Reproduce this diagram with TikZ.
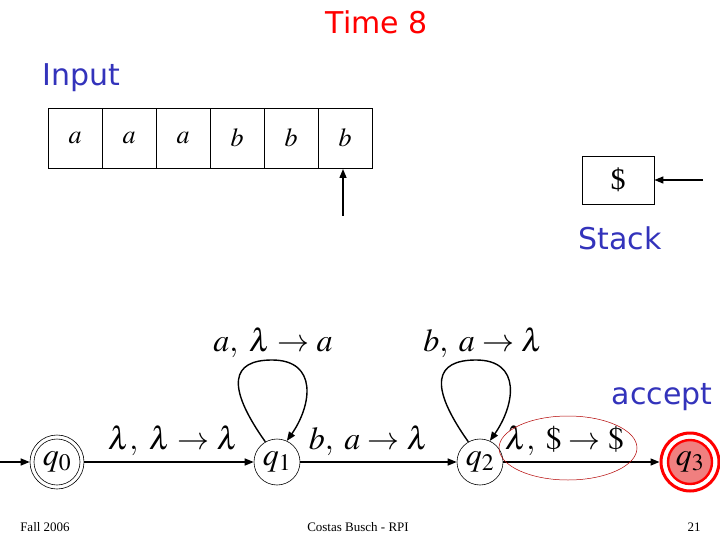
\documentclass[tikz,border=0pt]{standalone}
\usepackage{mathptmx}
\usepackage{fontspec}
\setmainfont{Liberation Serif}
\newfontfamily\comicfont{DejaVu Sans}
\usetikzlibrary{arrows.meta}
\definecolor{slideblue}{HTML}{3333BB}
\definecolor{acceptfill}{HTML}{F07F7F}
\tikzset{
  cellbox/.style={draw, line width=0.8pt, minimum width=54pt, minimum height=60pt, inner sep=0pt, font=\fontsize{26}{30}\selectfont},
  statenode/.style={circle, draw, line width=0.6pt, minimum size=46pt, inner sep=0pt, font=\fontsize{32}{36}\selectfont},
  edgelbl/.style={font=\fontsize{32}{36}\selectfont, inner sep=0pt},
  arr/.style={-{Triangle[length=9pt,width=7pt]}, line width=1.4pt},
  slidetext/.style={font=\comicfont\fontsize{30}{34}\selectfont, inner sep=0pt},
  foot/.style={font=\fontsize{13}{15}\selectfont, inner sep=0pt}
}
\begin{document}
\begin{tikzpicture}[x=1pt,y=-1pt]
\useasboundingbox (0,0) rectangle (720,540);
% title and labels
\node[slidetext, text=red] (title) at (377,22) {Time 8};
\node[slidetext, text=slideblue, anchor=west] (input) at (42,78) {Input};
\node[slidetext, text=slideblue] (stacklbl) at (620,238) {Stack};
\node[slidetext, text=slideblue] (accept) at (662,397) {accept};
% tape
\node[cellbox] (c1) at (75,138) {$a$};
\node[cellbox] (c2) at (129,138) {$a$};
\node[cellbox] (c3) at (183,138) {$a$};
\node[cellbox] (c4) at (237,138) {$b$};
\node[cellbox] (c5) at (291,138) {$b$};
\node[cellbox] (c6) at (345,138) {$b$};
\coordinate (headtail) at (343,216);
\draw[arr] (headtail) -- (343,169);
% stack
\node[draw, line width=0.8pt, minimum width=72pt, minimum height=48pt, inner sep=0pt, font=\fontsize{30}{34}\selectfont] (stk) at (618,180) {\$};
\coordinate (stktail) at (703,180);
\draw[arr] (stktail) -- (stk.east);
% states
\node[statenode, minimum size=54pt] (q0) at (57,462) {$q_0$};
\node[circle, draw, line width=0.6pt, minimum size=46pt] (q0in) at (57,462) {};
\node[statenode] (q1) at (277,462) {$q_1$};
\node[statenode] (q2) at (480,462) {$q_2$};
\node[circle, draw=red, line width=3pt, fill=white, minimum size=58pt, inner sep=0pt] (q3out) at (690,462) {};
\node[statenode, draw=red, fill=acceptfill, line width=2.4pt, minimum size=44pt] (q3) at (690,462) {$q_3$};
\coordinate (start) at (0,462);
% transitions
\draw[arr] (start) -- (q0);
\draw[arr] (q0) -- node[edgelbl, above=6pt, xshift=4pt] {$\lambda,\;\lambda\rightarrow\lambda$} (q1);
\draw[arr] (q1) -- node[edgelbl, above=6pt, xshift=-10pt] {$b,\;a\rightarrow\lambda$} (q2);
\draw[arr] (q2) -- node[edgelbl, above=6pt, xshift=-17pt] (l23) {$\lambda,\;\$\rightarrow\$$} (q3out);
\draw[line width=1.4pt, -{Triangle[length=9pt,width=7pt]}] (q1.120) .. controls (225,385) and (232,360) .. (272,360) .. controls (318,360) and (312,405) .. (q1.65);
\draw[line width=1.4pt, -{Triangle[length=9pt,width=7pt]}] (q2.120) .. controls (428,385) and (435,360) .. (476,360) .. controls (522,360) and (515,405) .. (q2.65);
\node[edgelbl] (l11) at (273,343) {$a,\;\lambda\rightarrow a$};
\node[edgelbl] (l22) at (483,343) {$b,\;a\rightarrow\lambda$};
% red ellipse
\draw[red!70!black, line width=0.5pt] (568,448) ellipse [x radius=69pt, y radius=32pt];
% footer
\node[foot] (f1) at (45,527) {Fall 2006};
\node[foot] (f2) at (358,527) {Costas Busch - RPI};
\node[foot] (f3) at (694,527) {21};
\end{tikzpicture}
\end{document}
